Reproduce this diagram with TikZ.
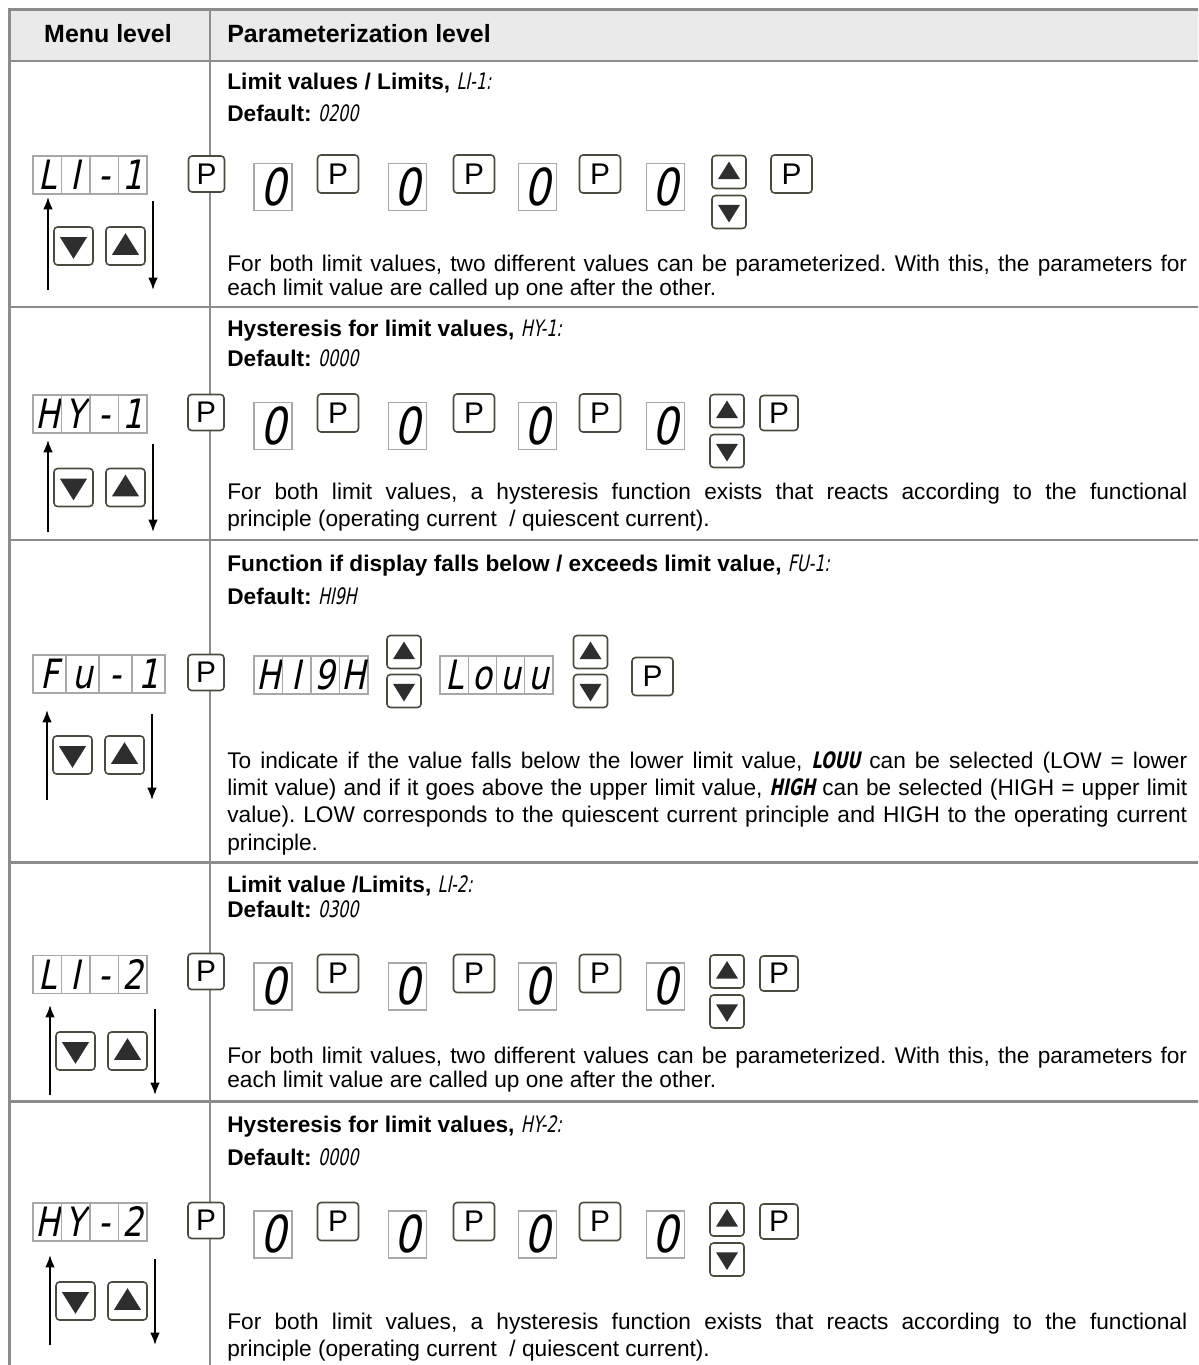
\documentclass[tikz,border=0pt]{standalone}
\usepackage{fontspec}
\setmainfont{Liberation Sans}
\newfontfamily\segfont[FakeSlant=0.2,FakeStretch=0.8]{DejaVu Sans}
\newfontfamily\codefont[FakeSlant=0.2,FakeStretch=0.7]{DejaVu Sans}
\usetikzlibrary{positioning,calc,arrows.meta}
\definecolor{tabgray}{HTML}{8C8C8C}
\definecolor{hdfill}{HTML}{EAEAEA}
\definecolor{keyrim}{HTML}{4A4A40}
\definecolor{segrim}{HTML}{A8A8A8}
\definecolor{trifill}{HTML}{2E2E2E}
\frenchspacing

% key with a triangle: name, x, y, style, half width
\newcommand{\upkey}[5]{%
  \node[#4] (#1) at (#2,#3) {};
  \fill[tri] ($(#1.center)+(-#5,0.65*#5)$) -- ($(#1.center)+(#5,0.65*#5)$) -- ($(#1.center)+(0,-0.95*#5)$) -- cycle;}
\newcommand{\downkey}[5]{%
  \node[#4] (#1) at (#2,#3) {};
  \fill[tri] ($(#1.center)+(-#5,-0.65*#5)$) -- ($(#1.center)+(#5,-0.65*#5)$) -- ($(#1.center)+(0,0.95*#5)$) -- cycle;}
% segment display: name, left x, y, cell width, characters
\newcommand{\segdisplay}[5]{%
  \foreach \c [count=\i] in {#5}
    \node[segcell=#4] (#1-\i) at ({#2+(\i-0.5)*#4},#3) {\c};}
% 0 P 0 P 0 P 0 up/down P: name, key y, up/down x, last P x, last P style
\newcommand{\digitrow}[5]{%
  \foreach \dx/\px [count=\i] in {273/338, 407.5/474, 537.5/600} {
    \node[digbox] (#1-d\i) at (\dx,#2+13) {0};
    \node[pkey] (#1-p\i) at (\px,#2) {P};}
  \node[digbox] (#1-d4) at (665.5,#2+13) {0};
  \upkey{#1-up}{#3}{#2-2}{akey}{11}
  \downkey{#1-dn}{#3}{#2+38}{akey}{11}
  \node[#5] (#1-p4) at (#4,#2) {P};}
% menu keys and arrows: name, x shift, key y, arrow top, arrow bottom
\newcommand{\menukeys}[5]{%
  \downkey{#1-kd}{73.5+#2}{#3}{mkey}{13.5}
  \upkey{#1-ku}{125.5+#2}{#3}{mkey}{13.5}
  \coordinate (#1-ua) at (48+#2,#5);
  \coordinate (#1-ub) at (48+#2,#4);
  \coordinate (#1-da) at (153+#2,#4+4);
  \coordinate (#1-db) at (153+#2,#5);
  \draw[flow] (#1-ua) -- (#1-ub);
  \draw[flow] (#1-da) -- (#1-db);}

\begin{document}
\begin{tikzpicture}[x=0.02cm, y=-0.02cm,
    tab/.style={draw=tabgray, line width=1.7pt},
    col/.style={draw=tabgray, line width=1.2pt},
    hd/.style={anchor=base, inner sep=0pt, font=\fontsize{14.2}{17}\selectfont\bfseries},
    ttl/.style={anchor=base west, inner sep=0pt, font=\fontsize{12.9}{15}\selectfont\bfseries},
    desc/.style={anchor=base west, inner sep=0pt, text width=19.2cm, align=justify, font=\fontsize{12.9}{#1}\selectfont},
    pkey/.style={draw=keyrim, fill=white, line width=0.9pt, rounded corners=2pt, minimum width=0.82cm, minimum height=0.76cm, inner sep=0pt, font=\fontsize{17}{17}\selectfont},
    lp/.style={minimum width=0.72cm, minimum height=0.72cm},
    sp/.style={minimum width=0.76cm, minimum height=0.70cm},
    akey/.style={draw=keyrim, fill=white, line width=0.9pt, rounded corners=2pt, minimum width=0.68cm, minimum height=0.66cm, inner sep=0pt},
    mkey/.style={akey, minimum width=0.78cm, minimum height=0.76cm},
    tri/.style={fill=trifill},
    segcell/.style={draw=segrim, line width=0.6pt, minimum width=#1*0.02cm, minimum height=0.76cm, inner sep=0pt, text height=16.8pt, text depth=0pt, font=\segfont\fontsize{23}{23}\selectfont},
    digbox/.style={draw=segrim, line width=0.6pt, minimum width=0.76cm, minimum height=0.94cm, inner sep=0pt, text height=21pt, text depth=0pt, font=\segfont\fontsize{29}{29}\selectfont},
    flow/.style={-{Latex[length=7pt,width=5.5pt]}, line width=1.1pt}
]
\clip (0,0) rectangle (1198,1365);

% table
\fill[hdfill] (9,9) rectangle (1210,61);
\draw[tab] (9.5,1370) -- (9.5,9.5) -- (1210,9.5);
\draw[tab] (9,61) -- (1210,61);
\foreach \y in {307,540,862,1101}
    \draw[tab] (9,\y) -- (1210,\y);
\draw[col] (210,9) -- (210,1370);

\node[hd] (hmenu) at (108,43) {Menu level};
\node[hd, anchor=base west] (hpar) at (227,43) {Parameterization level};

% LI-1
\node[ttl] (t1) at (227,90) {Limit values / Limits, {\codefont\mdseries LI-1:}};
\node[ttl] (f1) at (227,122) {Default: {\codefont\mdseries 0200}};
\segdisplay{m1}{33}{175}{28.5}{L,I,-,1}
\node[pkey, lp] (m1-p) at (206.5,174) {P};
\digitrow{r1}{174}{729}{791.5}{pkey}
\menukeys{m1}{0}{246}{197}{290}
\node[desc=13.9pt] (x1) at (227,271) {For both limit values, two different values can be parameterized. With this, the parameters for\linebreak each limit value are called up one after the other.};

% HY-1
\node[ttl] (t2) at (227,336) {Hysteresis for limit values, {\codefont\mdseries HY-1:}};
\node[ttl] (f2) at (227,366) {Default: {\codefont\mdseries 0000}};
\segdisplay{m2}{33}{414}{28.5}{H,Y,-,1}
\node[pkey, lp] (m2-p) at (206,412.5) {P};
\digitrow{r2}{413}{727}{779}{pkey,sp}
\menukeys{m2}{0}{487.5}{440}{532}
\node[desc=15.6pt] (x2) at (227,499) {For both limit values, a hysteresis function exists that reacts according to the functional\linebreak principle (operating current\ \ / quiescent current).};

% FU-1
\node[ttl] (t3) at (227,571) {Function if display falls below / exceeds limit value, {\codefont\mdseries FU-1:}};
\node[ttl] (f3) at (227,604) {Default: {\codefont\mdseries HI9H}};
\segdisplay{m3}{33}{674}{33}{F,u,-,1}
\node[pkey, lp] (m3-p) at (206,672.5) {P};
\segdisplay{v3a}{254}{675}{28.5}{H,I,9,H}
\upkey{v3a-up}{404}{652}{akey}{11}
\downkey{v3a-dn}{404}{691}{akey}{11}
\segdisplay{v3b}{440}{675}{28.25}{L,o,u,u}
\upkey{v3b-up}{590.5}{652}{akey}{11}
\downkey{v3b-dn}{590.5}{691}{akey}{11}
\node[pkey] (v3-p) at (652.5,676.5) {P};
\menukeys{m3}{-1}{755}{710}{800}
\node[desc=15.6pt] (x3) at (227,768) {To indicate if the value falls below the lower limit value, {\codefont\bfseries LOUU} can be selected (LOW = lower\linebreak limit value) and if it goes above the upper limit value, {\codefont\bfseries HIGH} can be selected (HIGH = upper limit\linebreak value). LOW corresponds to the quiescent current principle and HIGH to the operating current\linebreak principle.};

% LI-2
\node[ttl] (t4) at (227,892) {Limit value /Limits, {\codefont\mdseries LI-2:}};
\node[ttl] (f4) at (227,917) {Default: {\codefont\mdseries 0300}};
\segdisplay{m4}{33}{974.5}{28.5}{L,I,-,2}
\node[pkey, lp] (m4-p) at (206,971.5) {P};
\digitrow{r4}{973.5}{727}{779}{pkey,sp}
\menukeys{m4}{2}{1051}{1005}{1095}
\node[desc=13.9pt] (x4) at (227,1063) {For both limit values, two different values can be parameterized. With this, the parameters for\linebreak each limit value are called up one after the other.};

% HY-2
\node[ttl] (t5) at (227,1132) {Hysteresis for limit values, {\codefont\mdseries HY-2:}};
\node[ttl] (f5) at (227,1165) {Default: {\codefont\mdseries 0000}};
\segdisplay{m5}{33}{1222}{28.5}{H,Y,-,2}
\node[pkey, lp] (m5-p) at (206,1220.5) {P};
\digitrow{r5}{1221.5}{727}{779}{pkey,sp}
\menukeys{m5}{2}{1301}{1255}{1345}
\node[desc=15.6pt] (x5) at (227,1329) {For both limit values, a hysteresis function exists that reacts according to the functional\linebreak principle (operating current\ \ / quiescent current).};
\end{tikzpicture}
\end{document}
